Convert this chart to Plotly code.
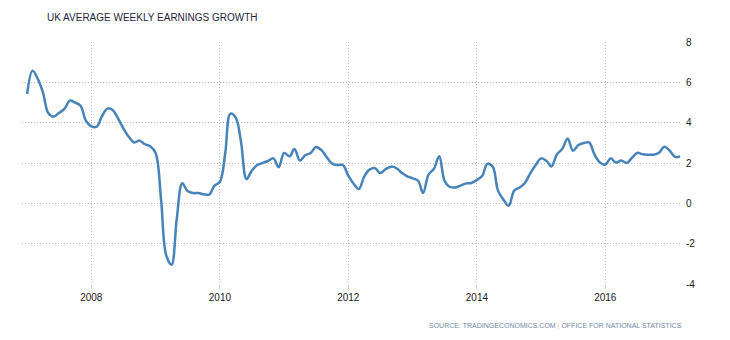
import pandas as pd
import plotly.graph_objects as go

# Monthly data, Jan 2007 - Mar 2017
start_month = "2007-01-01"
n_months = 123
growth = [
    5.42, 6.58, 6.20, 5.50, 4.48, 4.30, 4.48, 4.68, 5.09, 5.00, 4.84, 4.10,   # 2007
    3.82, 3.80, 4.31, 4.70, 4.63, 4.21, 3.72, 3.30, 3.02, 3.11, 2.93, 2.83,   # 2008
    2.48, 0.13, -2.55, -3.05, -0.75, 1.00, 0.61, 0.51, 0.51, 0.45, 0.43, 0.88, # 2009
    1.07, 2.53, 4.44, 4.25, 3.05, 1.20, 1.62, 1.90, 2.00, 2.10, 2.23, 1.79,   # 2010
    2.50, 2.33, 2.69, 2.12, 2.38, 2.50, 2.79, 2.64, 2.28, 1.97, 1.90, 1.90,   # 2011
    1.37, 0.96, 0.71, 1.34, 1.67, 1.74, 1.50, 1.70, 1.82, 1.74, 1.50, 1.34,   # 2012
    1.24, 1.12, 0.51, 1.42, 1.70, 2.33, 1.12, 0.81, 0.79, 0.88, 0.99, 1.01,   # 2013
    1.16, 1.37, 1.96, 1.82, 0.63, 0.18, -0.12, 0.63, 0.78, 1.01, 1.50, 1.90,  # 2014
    2.23, 2.10, 1.83, 2.43, 2.69, 3.22, 2.61, 2.89, 2.99, 3.02, 2.41, 2.03,   # 2015
    1.92, 2.23, 2.02, 2.12, 2.00, 2.26, 2.50, 2.43, 2.41, 2.41, 2.51, 2.81,   # 2016
    2.61, 2.30, 2.33, 2.43,                                                   # 2017
][:n_months]
dates = pd.date_range(start_month, periods=len(growth), freq="MS")

x_ticks = ["2008-01-01", "2010-01-01", "2012-01-01", "2014-01-01", "2016-01-01"]
x_tick_labels = ["2008", "2010", "2012", "2014", "2016"]
y_ticks = [-4, -2, 0, 2, 4, 6, 8]
y_tick_labels = ["-4", "-2", "0", "2", "4", "6", "8"]

title_text = "UK AVERAGE WEEKLY EARNINGS GROWTH"
source_text = ('SOURCE: TRADINGECONOMICS.COM <span style="color:#e8c890">|</span> '
               'OFFICE FOR NATIONAL STATISTICS')

fig = go.Figure()
fig.add_trace(go.Scatter(
    x=dates, y=growth, mode="lines",
    line=dict(color="#4683BA", width=2.5, shape="spline", smoothing=1.0),
    hoverinfo="x+y", showlegend=False,
))

grid_dash = "1px,2px"

fig.update_layout(
    width=730, height=340,
    margin=dict(l=22, r=48, t=42, b=56),
    paper_bgcolor="white", plot_bgcolor="white",
    font=dict(family="Liberation Sans, Arial, sans-serif", size=10, color="#222222"),
    xaxis=dict(
        range=["2006-12-03", "2017-03-12"],
        tickvals=x_ticks, ticktext=x_tick_labels,
        showgrid=True, gridcolor="#bdbdbd", griddash=grid_dash, gridwidth=1,
        ticks="outside", ticklen=4, tickcolor="#d0d0d0", tickwidth=1,
        showline=False, zeroline=False,
        tickfont=dict(size=10, color="#1a1a1a"),
    ),
    yaxis=dict(
        range=[-4, 8], side="right",
        tickvals=y_ticks, ticktext=y_tick_labels,
        showgrid=True, gridcolor="#bdbdbd", griddash=grid_dash, gridwidth=1,
        showline=False, zeroline=False, ticks="", ticklabelstandoff=3,
        tickfont=dict(size=10, color="#1a1a1a"),
    ),
    annotations=[
        dict(text=title_text, xref="paper", yref="paper", x=0, y=1,
             xshift=23, yshift=25, xanchor="left", yanchor="middle",
             showarrow=False, font=dict(size=10, color="#1f1f3f")),
        dict(text=source_text, xref="paper", yref="paper", x=1, y=0,
             xshift=2, yshift=-42, xanchor="right", yanchor="middle",
             showarrow=False, font=dict(size=7, color="#6f88a6")),
    ],
)

fig.write_html("out.html")
